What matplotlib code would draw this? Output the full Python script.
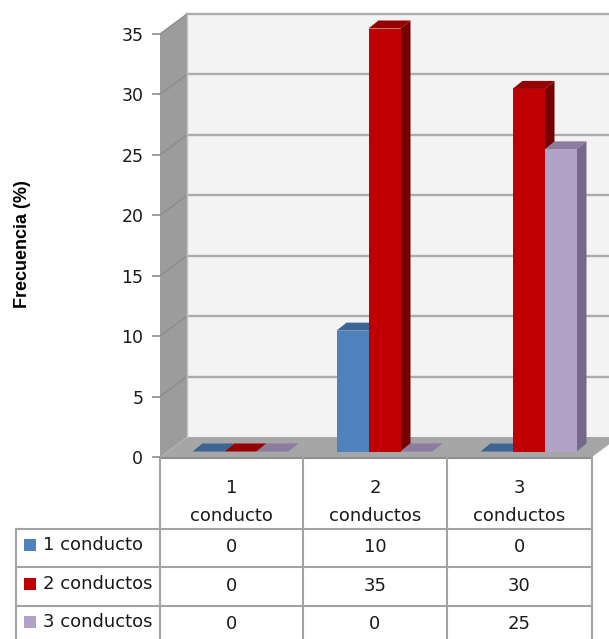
"""
plot.py
Pseudo-3D clustered columns of root canal counts with a data table underneath.
"""

import matplotlib
matplotlib.use("Agg")
import matplotlib.pyplot as plt
from matplotlib.patches import Polygon
from matplotlib.transforms import Affine2D

plt.rcParams["font.family"] = ["DejaVu Sans"]

categories = ["1\nconducto", "2\nconductos", "3\nconductos"]
series_names = ["1 conducto", "2 conductos", "3 conductos"]
one_canal = [0, 10, 0]
two_canals = [0, 35, 30]
three_canals = [0, 0, 25]
y_ticks = [0, 5, 10, 15, 20, 25, 30, 35]

W, H = 609, 639
GRID = "#a6a6a6"
LINE = "#a3a3a3"
TEXT = "#1a1a1a"
FS = 13

# front, top and side shades for each series
SHADES = [
    ("#4f81bd", "#3c6494", "#2f4f75"),
    ("#c00000", "#960000", "#760000"),
    ("#b3a2c7", "#8b7ca0", "#756888"),
]

fig = plt.figure(figsize=(W / 100, H / 100), dpi=100)

# pixel-coordinate layer for walls and table
bg = fig.add_axes([0, 0, 1, 1])
bg.set_xlim(0, W)
bg.set_ylim(H, 0)
bg.axis("off")

X0, X1 = 160, 592
Y0, Y35 = 457, 34
DEPTH_X, DEPTH_Y = 27, -20

ax = fig.add_axes([X0 / W, (H - Y0) / H, (X1 - X0) / W, (Y0 - Y35) / H])
ax.set_xlim(-0.5, 2.5)
ax.set_ylim(0, 35)
ax.patch.set_alpha(0)
for s in ax.spines.values():
    s.set_visible(False)


def shifted(dx, dy):
    """Data transform moved by a pixel offset (dy measured downwards)."""
    return ax.transData + Affine2D().translate(dx, -dy)


# back wall, left wall and floor
bg.add_patch(Polygon([(X0 + DEPTH_X, Y35 + DEPTH_Y), (W + 5, Y35 + DEPTH_Y),
                      (W + 5, Y0 + DEPTH_Y), (X0 + DEPTH_X, Y0 + DEPTH_Y)],
                     fc="#f3f3f3", ec="none"))
bg.add_patch(Polygon([(X0, Y35), (X0 + DEPTH_X, Y35 + DEPTH_Y),
                      (X0 + DEPTH_X, Y0 + DEPTH_Y), (X0, Y0)],
                     fc="#9c9c9c", ec="none"))
bg.add_patch(Polygon([(X0, Y0), (X0 + DEPTH_X, Y0 + DEPTH_Y),
                      (X1 + DEPTH_X, Y0 + DEPTH_Y), (X1, Y0)],
                     fc=GRID, ec="none"))

# gridlines across the back wall and down the left wall
for v in y_ticks[1:]:
    py = Y0 - v * (Y0 - Y35) / 35
    bg.plot([X0 + DEPTH_X, W + 5], [py + DEPTH_Y, py + DEPTH_Y], color="#ababab", lw=1.7, zorder=2)
    bg.plot([X0, X0 + DEPTH_X], [py, py + DEPTH_Y], color="#8c8c8c", lw=1.0, zorder=2)
bg.plot([X0 + DEPTH_X, X0 + DEPTH_X], [Y35 + DEPTH_Y, Y0 + DEPTH_Y], color="#c4c4c4", lw=1.0, zorder=2)
bg.plot([X0, X1], [Y0 + 1, Y0 + 1], color="#8f8f8f", lw=1.5, zorder=2)

# y axis ticks and labels
ax.set_xticks([])
ax.set_yticks(y_ticks)
ax.tick_params(axis="y", length=6, width=1.2, color="#8f8f8f", pad=6, labelsize=12.5, labelcolor=TEXT)
ax.set_ylabel("Frecuencia (%)", fontsize=13, fontweight="bold", family="Liberation Sans", color="black")
ax.yaxis.set_label_coords((31 - X0) / (X1 - X0), (Y0 - 244) / (Y0 - Y35))

# columns: front face from the axes, then side and top faces offset behind it
BAR_W = 32 / 144
OFF_X, OFF_Y = 8.5, -5.5
SIDE_X, SIDE_Y = 10, -8

for i, values in enumerate([one_canal, two_canals, three_canals]):
    front, top, side = SHADES[i]
    positions = [c + (i - 1) * BAR_W for c in range(len(categories))]
    for c, (x, v) in enumerate(zip(positions, values)):
        left, right = x - BAR_W / 2, x + BAR_W / 2
        corners = shifted(OFF_X, OFF_Y).transform([(left, v), (right, v), (right, 0)])
        (lx, ty), (rx, _), (_, by) = corners
        ax.add_patch(Polygon([(rx, by), (rx + SIDE_X, by - SIDE_Y), (rx + SIDE_X, ty - SIDE_Y), (rx, ty)],
                             transform=None, fc=side, ec="none", zorder=3 + i, clip_on=False))
        ax.add_patch(Polygon([(lx, ty), (lx + SIDE_X, ty - SIDE_Y), (rx + SIDE_X, ty - SIDE_Y), (rx, ty)],
                             transform=None, fc=top, ec="none", zorder=3 + i, clip_on=False))
        ax.bar(x, v, BAR_W, color=front, linewidth=0, zorder=3 + i, clip_on=False,
               transform=shifted(OFF_X, OFF_Y))

# data table
COLS = [160, 303, 447, 592]
ROWS = [529, 567, 606]
TBL_LEFT = 16
for cx in COLS:
    bg.plot([cx, cx], [Y0, H + 2], color=LINE, lw=1.5, zorder=2)
bg.plot([TBL_LEFT, TBL_LEFT], [ROWS[0], H + 2], color=LINE, lw=1.5, zorder=2)
for ry in ROWS:
    bg.plot([TBL_LEFT, COLS[-1]], [ry, ry], color=LINE, lw=1.5, zorder=2)

for c, label in enumerate(categories):
    bg.text((COLS[c] + COLS[c + 1]) / 2, 502, label, ha="center", va="center",
            fontsize=FS, color=TEXT, linespacing=1.7)

row_centers = [545, 584, 622]
for i, values in enumerate([one_canal, two_canals, three_canals]):
    cy = row_centers[i]
    bg.add_patch(Polygon([(24, cy - 6.5), (36, cy - 6.5), (36, cy + 6), (24, cy + 6)],
                         fc=SHADES[i][0], ec="none", zorder=3))
    bg.text(43, cy, series_names[i], ha="left", va="center", fontsize=FS, color=TEXT)
    for c, v in enumerate(values):
        bg.text((COLS[c] + COLS[c + 1]) / 2, cy + 2, str(v), ha="center", va="center",
                fontsize=FS, color=TEXT)

fig.savefig("out.png", dpi=100)
plt.close(fig)
